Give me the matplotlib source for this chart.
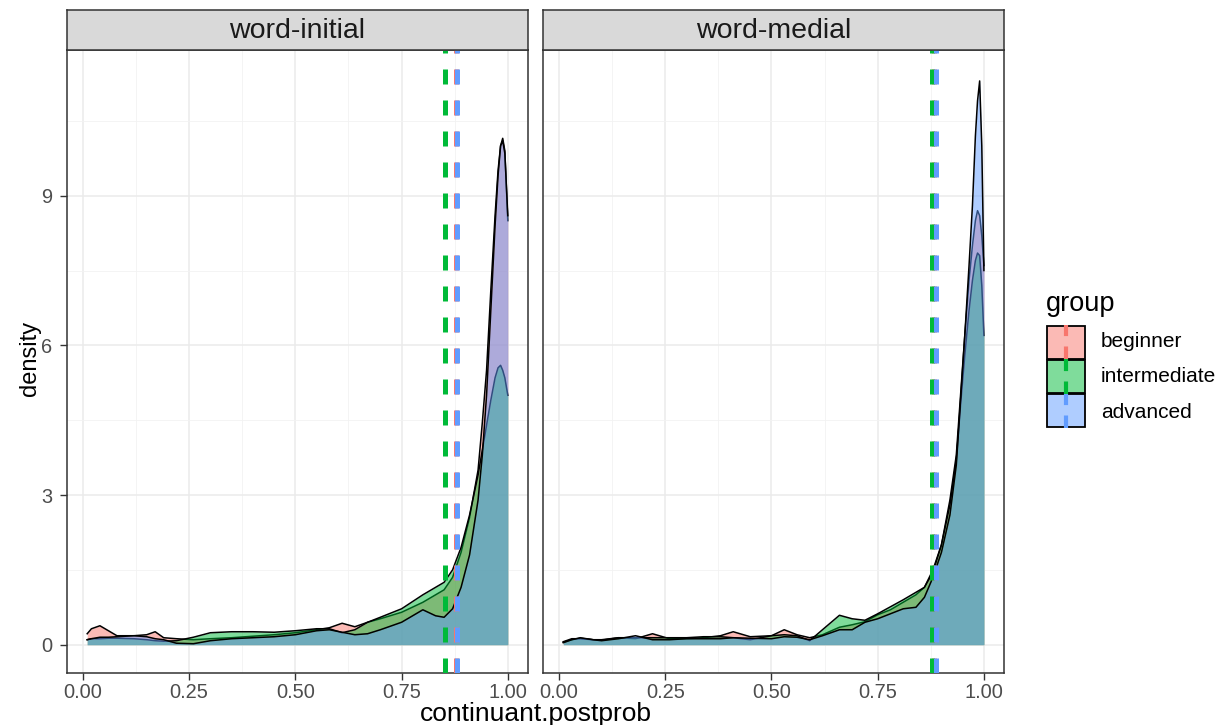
import numpy as np
import matplotlib
matplotlib.use('Agg')
import matplotlib.pyplot as plt
from matplotlib.patches import Rectangle

plt.rcParams['font.family'] = ['Liberation Sans', 'DejaVu Sans']

groups = ['beginner', 'intermediate', 'advanced']
colors = ['#F8766D', '#00BA38', '#619CFF']
facets = ['word-initial', 'word-medial']

# density curves
x_init = [0.01, 0.02, 0.04, 0.06, 0.08, 0.12, 0.15, 0.17, 0.19, 0.22, 0.26, 0.30, 0.35,
          0.40, 0.45, 0.50, 0.55, 0.58, 0.61, 0.64, 0.67, 0.70, 0.75, 0.80, 0.83, 0.85,
          0.87, 0.89, 0.91, 0.93, 0.94, 0.95, 0.96, 0.97, 0.977, 0.983, 0.988, 0.993, 1.00]
beg_init = [0.22, 0.32, 0.38, 0.28, 0.18, 0.18, 0.20, 0.26, 0.14, 0.12, 0.10, 0.12, 0.14,
            0.17, 0.20, 0.24, 0.30, 0.34, 0.43, 0.36, 0.45, 0.52, 0.65, 0.85, 1.00, 1.10,
            1.35, 1.85, 2.55, 3.50, 4.45, 5.50, 7.10, 8.60, 9.50, 10.0, 10.15, 9.90, 8.50]
int_init = [0.10, 0.12, 0.12, 0.13, 0.13, 0.12, 0.10, 0.08, 0.07, 0.08, 0.15, 0.24, 0.26,
            0.26, 0.25, 0.28, 0.32, 0.32, 0.24, 0.30, 0.45, 0.55, 0.72, 1.00, 1.15, 1.25,
            1.50, 1.95, 2.60, 3.40, 3.90, 4.40, 4.90, 5.35, 5.55, 5.60, 5.50, 5.35, 5.00]
adv_init = [0.10, 0.12, 0.15, 0.15, 0.16, 0.18, 0.16, 0.12, 0.10, 0.03, 0.02, 0.08, 0.12,
            0.14, 0.16, 0.20, 0.28, 0.30, 0.25, 0.20, 0.22, 0.30, 0.45, 0.70, 0.58, 0.55,
            0.72, 1.15, 1.80, 2.90, 3.80, 5.00, 6.70, 8.40, 9.40, 10.0, 10.1, 9.85, 8.60]

x_med = [0.01, 0.03, 0.05, 0.08, 0.10, 0.14, 0.18, 0.22, 0.26, 0.30, 0.34, 0.38, 0.41,
         0.45, 0.50, 0.53, 0.56, 0.59, 0.62, 0.66, 0.69, 0.72, 0.75, 0.78, 0.81, 0.84,
         0.86, 0.88, 0.90, 0.92, 0.935, 0.945, 0.955, 0.965, 0.973, 0.98, 0.985, 0.99, 0.995, 1.00]
beg_med = [0.05, 0.10, 0.13, 0.10, 0.09, 0.14, 0.12, 0.22, 0.12, 0.12, 0.14, 0.18, 0.26,
           0.16, 0.18, 0.30, 0.20, 0.14, 0.20, 0.35, 0.40, 0.46, 0.60, 0.70, 0.85, 1.00,
           1.15, 1.50, 2.00, 2.90, 3.80, 5.00, 6.20, 7.30, 8.00, 8.50, 8.70, 8.60, 8.20, 7.60]
int_med = [0.06, 0.12, 0.12, 0.10, 0.10, 0.14, 0.14, 0.14, 0.14, 0.14, 0.16, 0.16, 0.14,
           0.10, 0.18, 0.20, 0.18, 0.08, 0.30, 0.59, 0.52, 0.49, 0.62, 0.76, 0.90, 1.05,
           1.15, 1.45, 2.00, 2.80, 3.70, 4.80, 5.80, 6.70, 7.30, 7.70, 7.85, 7.80, 7.20, 6.20]
adv_med = [0.04, 0.10, 0.14, 0.10, 0.08, 0.12, 0.18, 0.10, 0.10, 0.12, 0.12, 0.12, 0.14,
           0.13, 0.12, 0.16, 0.15, 0.10, 0.18, 0.30, 0.30, 0.45, 0.52, 0.62, 0.72, 0.75,
           0.95, 1.35, 1.85, 2.60, 3.60, 4.90, 6.20, 7.60, 8.80, 10.2, 10.9, 11.3, 10.0, 7.50]

# group means (dashed lines)
mean_init = [0.877, 0.852, 0.881]
mean_med = [0.883, 0.878, 0.887]

xs = [x_init, x_med]
ys = [[beg_init, int_init, adv_init], [beg_med, int_med, adv_med]]
means = [mean_init, mean_med]

fig = plt.figure(figsize=(12.22, 7.25), dpi=100)
W, H = 1222, 725
lefts = [66.8, 542.9]
pw = 461.4
ptop, pbot = 50, 673
grey20 = '#333333'

for k in range(2):
    ax = fig.add_axes([lefts[k] / W, 1 - pbot / H, pw / W, (pbot - ptop) / H])
    for i, g in enumerate(groups):
        ax.fill_between(xs[k], ys[k][i], 0, color=colors[i], alpha=0.5, lw=0, zorder=2 + i)
        ax.plot(xs[k], ys[k][i], color='black', lw=1.1, zorder=2 + i)
    for i, g in enumerate(groups):
        ax.axvline(means[k][i], color=colors[i], lw=3.6, ls=(0, (3, 3.2)), zorder=10)
    ax.set_xlim(-0.038, 1.048)
    ax.set_ylim(-0.567, 11.92)
    ax.set_xticks([0, 0.25, 0.5, 0.75, 1.0])
    ax.set_xticklabels(['0.00', '0.25', '0.50', '0.75', '1.00'])
    ax.set_xticks([0.125, 0.375, 0.625, 0.875], minor=True)
    ax.set_yticks([0, 3, 6, 9])
    ax.set_yticks([1.5, 4.5, 7.5, 10.5], minor=True)
    ax.grid(True, which='major', color='#EBEBEB', lw=1.1, zorder=0)
    ax.grid(True, which='minor', color='#F2F2F2', lw=0.6, zorder=0)
    ax.set_axisbelow(True)
    ax.tick_params(which='major', length=5, width=1.0, color=grey20, labelcolor='#4D4D4D',
                   labelsize=14.4)
    ax.tick_params(axis='x', pad=2.5)
    ax.tick_params(axis='y', pad=5.5)
    ax.tick_params(which='minor', length=0)
    for s in ax.spines.values():
        s.set_color(grey20)
        s.set_linewidth(1.1)
    if k == 1:
        ax.set_yticklabels([])
        ax.tick_params(axis='y', length=0)

    # facet strip
    st = fig.add_axes([lefts[k] / W, 1 - 50 / H, pw / W, 40 / H])
    st.set_facecolor('#D9D9D9')
    st.set_xticks([])
    st.set_yticks([])
    for s in st.spines.values():
        s.set_color(grey20)
        s.set_linewidth(1.1)
    st.text(0.5, 0.48, facets[k], ha='center', va='center', fontsize=20.5, color='#1A1A1A')

fig.text(536 / W, 1 - 714 / H, 'continuant.postprob', ha='center', va='center', fontsize=19)
fig.text(30 / W, 1 - 358 / H, 'density', ha='center', va='center', rotation=90, fontsize=17)

# legend
fig.text(1046 / W, 1 - 304 / H, 'group', ha='left', va='center', fontsize=19.5)
lg = fig.add_axes([1046 / W, 1 - 428 / H, 40 / W, 103 / H])
lg.set_xlim(0, 1)
lg.set_ylim(0, 3)
lg.axis('off')
for i, g in enumerate(groups):
    y0 = 2 - i
    lg.add_patch(Rectangle((0.02, y0 + 0.02), 0.96, 0.96, facecolor=colors[i], alpha=0.5, lw=0))
    lg.add_patch(Rectangle((0.02, y0 + 0.02), 0.96, 0.96, facecolor='none', edgecolor='black', lw=1.3))
    lg.plot([0.5, 0.5], [y0, y0 + 1], color=colors[i], lw=3.0, ls=(0, (3, 2.5)), solid_capstyle='butt')
    fig.text(1101 / W, 1 - (342 + 35 * i) / H, g, ha='left', va='center', fontsize=15)

fig.savefig('out.png', dpi=100, facecolor='white')
